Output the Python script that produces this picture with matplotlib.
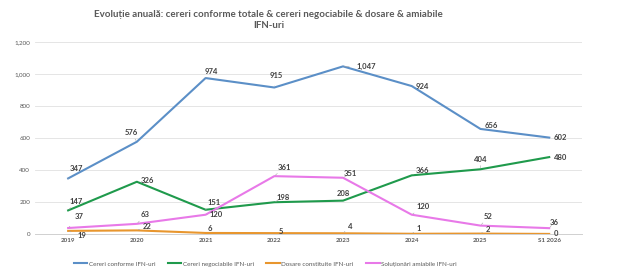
import matplotlib.pyplot as plt

plt.rcParams['font.family'] = ['Lato', 'DejaVu Sans']

years = ['2019', '2020', '2021', '2022', '2023', '2024', '2025', 'S1 2026']
cereri_conforme = [347, 576, 974, 915, 1047, 924, 656, 602]
cereri_negociabile = [147, 326, 151, 198, 208, 366, 404, 480]
dosare_constituite = [19, 22, 6, 5, 4, 1, 2, 0]
solutionari_amiabile = [37, 63, 120, 361, 351, 120, 52, 36]

# offsets of the data labels (pixels, y up) as placed in the original
off_conforme = [(8, 10), (-6, 9), (6, 7), (2, 12), (23, 0), (11, 0), (11, 3), (11, 0)]
off_negociabile = [(8, 9), (11, 1), (8, 7), (9, 5), (0, 7), (11, 5), (0, 10), (11, 0)]
off_dosare = [(14, -5), (10, 4), (4, 4), (7, 2), (7, 7), (7, 5), (7, 4), (7, 0)]
off_amiabile = [(11, 11), (8, 9), (11, 0), (10, 9), (7, 4), (11, 8), (8, 9), (5, 6)]

series = [
    ('Cereri conforme IFN-uri', cereri_conforme, '#5b8fc7', off_conforme),
    ('Cereri negociabile IFN-uri', cereri_negociabile, '#1f9a4c', off_negociabile),
    ('Dosare constituite IFN-uri', dosare_constituite, '#e8962e', off_dosare),
    ('Soluționări amiabile IFN-uri', solutionari_amiabile, '#e879e8', off_amiabile),
]

fig = plt.figure(figsize=(6.28, 2.72), dpi=100)
ax = fig.add_axes([0.056, 0.14, 0.871, 0.706])

x = list(range(len(years)))
for name, vals, col, offs in series:
    ax.plot(x, vals, color=col, lw=1.5, label=name, zorder=3)
    for xi, v, (dx, dy) in zip(x, vals, offs):
        far = abs(dx) + abs(dy) > 9
        ax.annotate(f'{v:,}', (xi, v), xytext=(dx * 0.72, dy * 0.72),
                    textcoords='offset points', ha='center', va='center',
                    fontsize=5.5, fontweight='bold', color='#404040', zorder=4,
                    arrowprops=dict(arrowstyle='-', color='#a6a6a6', lw=0.4,
                                    shrinkA=3, shrinkB=1) if far else None)

ax.set_xlim(-0.48, 7.48)
ax.set_ylim(0, 1200)
ax.set_yticks(range(0, 1201, 200))
ax.set_yticklabels([f'{t:,}' for t in range(0, 1201, 200)])
ax.set_xticks(x)
ax.set_xticklabels(years, fontweight='bold')
ax.tick_params(axis='both', length=0, labelsize=4.5, labelcolor='#595959')
ax.tick_params(axis='x', pad=3)
ax.grid(axis='y', color='#e0e0e0', lw=0.6)
ax.set_axisbelow(True)
for s in ['top', 'right', 'left']:
    ax.spines[s].set_visible(False)
ax.spines['bottom'].set_color('#d0d0d0')
ax.spines['bottom'].set_linewidth(0.7)

fig.suptitle('Evoluție anuală: cereri conforme totale & cereri negociabile & dosare & amiabile\nIFN-uri',
             x=0.428, y=0.965, fontsize=7, fontweight='bold', color='#595959', linespacing=1.3)

fig.legend(loc='center', bbox_to_anchor=(0.422, 0.03), ncol=4, frameon=False,
           fontsize=4.5, handlelength=2.2, handletextpad=0.2, columnspacing=2.0,
           labelcolor='#595959')

fig.savefig('out.png', dpi=100, facecolor='white')
